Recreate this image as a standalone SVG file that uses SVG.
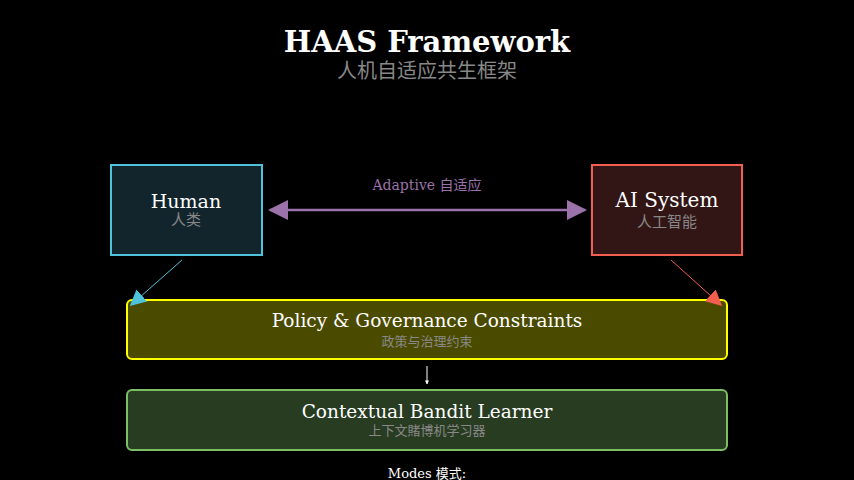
<svg xmlns="http://www.w3.org/2000/svg" width="854" height="480" viewBox="0 0 854 480">
<style>
.t{font-family:"DejaVu Serif","Noto Sans CJK SC",serif;text-anchor:middle;fill:#fff}
.c{font-family:"DejaVu Sans","Noto Sans CJK SC",sans-serif;text-anchor:middle;fill:#888}
</style>
<defs>
<marker id="mp" viewBox="0 0 10 10" refX="9" refY="5" markerWidth="20" markerHeight="20" markerUnits="userSpaceOnUse" orient="auto-start-reverse"><path d="M0,0L10,5L0,10z" fill="#9b72aa"/></marker>
<marker id="mb" viewBox="0 0 10 10" refX="9" refY="5" markerWidth="16" markerHeight="16" markerUnits="userSpaceOnUse" orient="auto"><path d="M0,0L10,5L0,10z" fill="#4fc3dc"/></marker>
<marker id="mr" viewBox="0 0 10 10" refX="9" refY="5" markerWidth="16" markerHeight="16" markerUnits="userSpaceOnUse" orient="auto"><path d="M0,0L10,5L0,10z" fill="#f25f50"/></marker>
<marker id="mw" viewBox="0 0 10 10" refX="9" refY="5" markerWidth="4" markerHeight="4" markerUnits="userSpaceOnUse" orient="auto"><path d="M0,0L10,5L0,10z" fill="#fff"/></marker>
</defs>
<rect width="854" height="480" fill="#000"/>
<text class="t" x="427" y="52" font-size="29" font-weight="bold">HAAS Framework</text>
<text class="c" x="427" y="78" font-size="20">人机自适应共生框架</text>
<g id="human"><rect x="111" y="165" width="151" height="90" fill="#12252c" stroke="#4fc3dc" stroke-width="2"/>
<text class="t" x="186" y="208" font-size="19">Human</text><text class="c" x="186" y="225" font-size="15">人类</text></g>
<g id="ai"><rect x="592" y="165" width="150" height="90" fill="#321515" stroke="#f25f50" stroke-width="2"/>
<text class="t" x="667" y="207" font-size="20">AI System</text><text class="c" x="667" y="227" font-size="15">人工智能</text></g>
<g id="policy"><rect x="127" y="300" width="600" height="59" rx="5" fill="#4b4b00" stroke="#ffff00" stroke-width="2"/>
<text class="t" x="427" y="327" font-size="18.5">Policy &amp; Governance Constraints</text><text class="c" x="427" y="346" font-size="13">政策与治理约束</text></g>
<g id="bandit"><rect x="127" y="390" width="600" height="60" rx="5" fill="#283c22" stroke="#7cbf62" stroke-width="2"/>
<text class="t" x="427" y="418" font-size="18.5">Contextual Bandit Learner</text><text class="c" x="427" y="435" font-size="13">上下文賭博机学习器</text></g>
<g id="connectors">
<line x1="270" y1="210" x2="585" y2="210" stroke="#9b72aa" stroke-width="2.5" marker-start="url(#mp)" marker-end="url(#mp)"/>
<text x="427" y="190" font-size="14" fill="#9b72aa" text-anchor="middle" font-family="DejaVu Serif,Noto Sans CJK SC,serif">Adaptive 自适应</text>
<line x1="182" y1="260" x2="131" y2="305" stroke="#4fc3dc" stroke-width="1" marker-end="url(#mb)"/>
<line x1="671" y1="260" x2="721" y2="305" stroke="#f25f50" stroke-width="1" marker-end="url(#mr)"/>
<line x1="427" y1="366" x2="427" y2="384" stroke="#fff" stroke-width="1" marker-end="url(#mw)"/>
</g>
<text class="t" x="427" y="478" font-size="13">Modes 模式:</text>
</svg>
